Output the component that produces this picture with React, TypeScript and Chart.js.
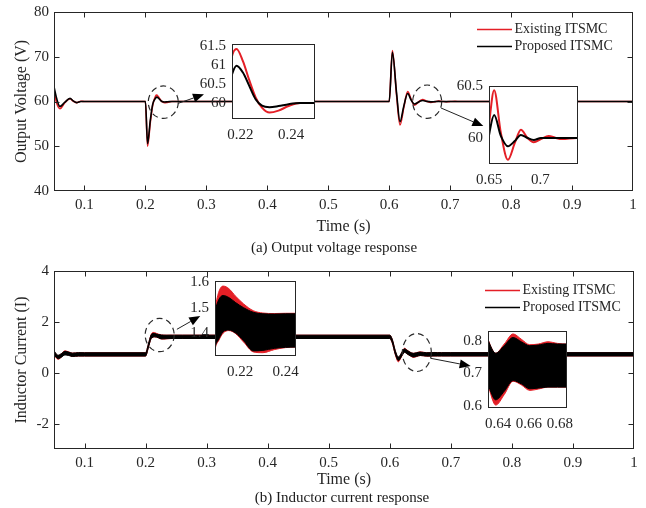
import React, { useEffect, useRef } from 'react';
import { Chart, registerables } from 'chart.js';

Chart.register(...registerables);

const FONT_FAMILY = "'Liberation Serif', 'Times New Roman', Times, serif";
const AXIS_COLOR = '#262626';
const RED = '#e41f26';
const BLACK = '#000000';

const legendLabels = ['Existing ITSMC', 'Proposed ITSMC'];
const legendColors = [RED, BLACK];

// ---------------- Output voltage (V) ----------------
const tV = [0.05, 0.0545, 0.0598, 0.0675, 0.0763, 0.0815, 0.0872, 0.094, 0.1,
  0.2, 0.2035, 0.208, 0.212, 0.2167, 0.2185, 0.221, 0.2235, 0.226, 0.2285, 0.2315, 0.235, 0.239, 0.2435, 0.25,
  0.6, 0.6052, 0.612, 0.6177, 0.624, 0.6303, 0.636, 0.6412, 0.6506, 0.655, 0.6615, 0.6684, 0.675, 0.681, 0.6875,
  0.6935, 0.7005, 0.708, 0.715, 0.721, 0.735, 1.0];
const vExisting = [62.2, 59.6, 58.4, 59.7, 60.6, 60.1, 59.75, 60.05, 60,
  60, 50.0, 55.3, 59.2, 61.23, 61.42, 61.1, 60.6, 60.15, 59.88, 59.75, 59.8, 59.92, 60, 60,
  60, 71.4, 61.5, 54.75, 58.7, 62.2, 60.5, 59.2, 60.18, 60.46, 60.05, 59.79, 59.95, 60.08, 60.0,
  59.96, 59.99, 60.02, 60.0, 59.99, 60.0, 60];
const vProposed = [63.3, 60.6, 58.9, 59.8, 60.7, 60.15, 59.75, 60.0, 60,
  60, 50.6, 55.8, 59.4, 60.75, 60.98, 60.8, 60.45, 60.1, 59.93, 59.89, 59.92, 59.97, 60, 60,
  60, 71.0, 62, 55.5, 59, 61.8, 60.3, 59.45, 60.06, 60.22, 60.02, 59.92, 59.97, 60.03, 60.0,
  59.98, 60.0, 60.0, 60.0, 60.0, 60.0, 60];

// ---------------- Inductor current (ripple envelope) ----------------
const tI = [0.05, 0.053, 0.057, 0.062, 0.068, 0.074, 0.08, 0.09, 0.1,
  0.2, 0.2045, 0.2089, 0.2105, 0.2125, 0.215, 0.218, 0.2215, 0.2258, 0.23, 0.235, 0.24, 0.2446, 0.26,
  0.6, 0.604, 0.609, 0.614, 0.619, 0.624, 0.629,
  0.6335, 0.6385, 0.644, 0.6497, 0.655, 0.6605, 0.666, 0.6723, 0.6785, 0.6846,
  0.7, 1.0];
const iExistingUpper = [0.85, 0.74, 0.67, 0.75, 0.86, 0.82, 0.77, 0.79, 0.785,
  0.785, 1.12, 1.49, 1.56, 1.585, 1.575, 1.545, 1.515, 1.488, 1.479, 1.477, 1.478, 1.478, 1.477,
  1.477, 1.31, 0.85, 0.58, 0.76, 0.96, 0.88,
  0.805, 0.762, 0.79, 0.821, 0.805, 0.788, 0.79, 0.797, 0.792, 0.79,
  0.79, 0.79];
const iExistingLower = [0.71, 0.60, 0.53, 0.61, 0.72, 0.69, 0.64, 0.655, 0.655,
  0.655, 0.98, 1.335, 1.37, 1.40, 1.41, 1.398, 1.365, 1.326, 1.323, 1.335, 1.343, 1.345, 1.345,
  1.345, 1.17, 0.71, 0.43, 0.62, 0.81, 0.73,
  0.664, 0.603, 0.635, 0.676, 0.665, 0.648, 0.652, 0.658, 0.658, 0.658,
  0.658, 0.658];
const iProposedUpper = [0.87, 0.76, 0.69, 0.75, 0.84, 0.81, 0.77, 0.79, 0.785,
  0.785, 1.12, 1.48, 1.53, 1.548, 1.54, 1.52, 1.50, 1.482, 1.476, 1.475, 1.476, 1.476, 1.476,
  1.476, 1.32, 0.87, 0.62, 0.77, 0.94, 0.87,
  0.803, 0.762, 0.785, 0.81, 0.797, 0.785, 0.787, 0.792, 0.79, 0.79,
  0.79, 0.79];
const iProposedLower = [0.73, 0.62, 0.55, 0.61, 0.70, 0.68, 0.64, 0.655, 0.655,
  0.655, 0.98, 1.34, 1.375, 1.405, 1.412, 1.40, 1.37, 1.33, 1.332, 1.34, 1.344, 1.345, 1.345,
  1.345, 1.18, 0.73, 0.48, 0.63, 0.80, 0.73,
  0.666, 0.619, 0.645, 0.678, 0.668, 0.653, 0.655, 0.658, 0.658, 0.658,
  0.658, 0.658];

// ---------------- ticks ----------------
const xMainTicks = [0.1, 0.2, 0.3, 0.4, 0.5, 0.6, 0.7, 0.8, 0.9, 1.0];
const xMainLabels = ['0.1', '0.2', '0.3', '0.4', '0.5', '0.6', '0.7', '0.8', '0.9', '1'];
const vTicks = [40, 50, 60, 70, 80];
const vLabels = ['40', '50', '60', '70', '80'];
const iTicks = [-2, 0, 2, 4];
const iLabels = ['-2', '0', '2', '4'];
const vZoom1XTicks = [0.22, 0.24];
const vZoom1XLabels = ['0.22', '0.24'];
const vZoom1YTicks = [60, 60.5, 61, 61.5];
const vZoom1YLabels = ['60', '60.5', '61', '61.5'];
const vZoom2XTicks = [0.65, 0.7];
const vZoom2XLabels = ['0.65', '0.7'];
const vZoom2YTicks = [60, 60.5];
const vZoom2YLabels = ['60', '60.5'];
const iZoom1XTicks = [0.22, 0.24];
const iZoom1XLabels = ['0.22', '0.24'];
const iZoom1YTicks = [1.4, 1.5, 1.6];
const iZoom1YLabels = ['1.4', '1.5', '1.6'];
const iZoom2XTicks = [0.64, 0.66, 0.68];
const iZoom2XLabels = ['0.64', '0.66', '0.68'];
const iZoom2YTicks = [0.6, 0.7, 0.8];
const iZoom2YLabels = ['0.6', '0.7', '0.8'];

// ---------------- helpers ----------------
type Range = { min: number; max: number; ticks: number[]; labels: string[] };

const pts = (t: number[], v: number[]) => t.map((x, i) => ({ x, y: v[i] }));

function lineDs(label: string, data: any, color: string, bw: number, fill: any = false) {
  return {
    label,
    data,
    borderColor: color,
    backgroundColor: color,
    borderWidth: bw,
    pointRadius: 0,
    cubicInterpolationMode: 'monotone',
    fill,
  };
}

function voltageDatasets(bw: number) {
  return [
    lineDs('Proposed ITSMC', pts(tV, vProposed), BLACK, bw),
    lineDs('Existing ITSMC', pts(tV, vExisting), RED, bw),
  ];
}

function currentDatasets(bw: number) {
  return [
    lineDs('Proposed ITSMC', pts(tI, iProposedUpper), BLACK, bw),
    lineDs('', pts(tI, iProposedLower), BLACK, bw, '-1'),
    lineDs('Existing ITSMC', pts(tI, iExistingUpper), RED, bw),
    lineDs('', pts(tI, iExistingLower), RED, bw, '-1'),
  ];
}

function fixedScale(axis: 'x' | 'y', r: Range, size: number, pad: number, title?: { text: string; pad: number }) {
  return {
    type: 'linear',
    position: axis === 'x' ? 'bottom' : 'left',
    min: r.min,
    max: r.max,
    afterBuildTicks: (s: any) => {
      s.ticks = r.ticks.map((v) => ({ value: v }));
    },
    afterFit: (s: any) => {
      if (axis === 'x') s.height = size;
      else s.width = size;
      s.paddingTop = 0;
      s.paddingBottom = 0;
      s.paddingLeft = 0;
      s.paddingRight = 0;
    },
    ticks: {
      callback: (_v: any, i: number) => r.labels[i],
      font: { family: FONT_FAMILY, size: 15 },
      color: AXIS_COLOR,
      padding: pad,
      autoSkip: false,
      maxRotation: 0,
      minRotation: 0,
      includeBounds: false,
    },
    grid: { display: false, drawTicks: false },
    border: { display: false },
    title: title
      ? {
          display: true,
          text: title.text,
          font: { family: FONT_FAMILY, size: 16 },
          color: AXIS_COLOR,
          padding: { top: title.pad, bottom: 0 },
        }
      : { display: false },
  };
}

const matlabPlugin = {
  id: 'matlab',
  beforeDatasetsDraw(chart: any, _a: any, o: any) {
    if (!o || !o.whiteBg) return;
    const { ctx, chartArea: a } = chart;
    ctx.save();
    ctx.fillStyle = '#ffffff';
    ctx.fillRect(a.left, a.top, a.right - a.left, a.bottom - a.top);
    ctx.restore();
  },
  afterDatasetsDraw(chart: any, _a: any, o: any) {
    const { ctx, chartArea: a, scales } = chart;
    const xs = scales.x;
    const ys = scales.y;
    const L = Math.round(a.left) + 0.5;
    const T = Math.round(a.top) + 0.5;
    const R = Math.round(a.right) - 0.5;
    const B = Math.round(a.bottom) - 0.5;
    ctx.save();
    ctx.strokeStyle = AXIS_COLOR;
    ctx.lineWidth = 1;
    ctx.setLineDash([]);
    ctx.strokeRect(L, T, R - L, B - T);
    const tl = o && o.tickLen ? o.tickLen : 0;
    if (tl) {
      ctx.beginPath();
      xs.ticks.forEach((t: any) => {
        const p = Math.round(xs.getPixelForValue(t.value)) + 0.5;
        if (p <= L + 1 || p >= R - 1) return;
        ctx.moveTo(p, B);
        ctx.lineTo(p, B - tl);
        ctx.moveTo(p, T);
        ctx.lineTo(p, T + tl);
      });
      ys.ticks.forEach((t: any) => {
        const p = Math.round(ys.getPixelForValue(t.value)) + 0.5;
        if (p <= T + 1 || p >= B - 1) return;
        ctx.moveTo(L, p);
        ctx.lineTo(L + tl, p);
        ctx.moveTo(R, p);
        ctx.lineTo(R - tl, p);
      });
      ctx.stroke();
    }
    // dashed circles
    if (o && o.circles) {
      ctx.strokeStyle = '#2a2a2a';
      ctx.lineWidth = 1.2;
      ctx.setLineDash([6, 4]);
      o.circles.forEach((c: any) => {
        ctx.beginPath();
        ctx.ellipse(xs.getPixelForValue(c.x), ys.getPixelForValue(c.y), c.rx, c.ry, 0, 0, Math.PI * 2);
        ctx.stroke();
      });
      ctx.setLineDash([]);
    }
    // arrows
    if (o && o.arrows) {
      ctx.strokeStyle = '#222222';
      ctx.fillStyle = '#000000';
      ctx.lineWidth = 1;
      o.arrows.forEach((ar: any) => {
        const x1 = xs.getPixelForValue(ar.x1);
        const y1 = ys.getPixelForValue(ar.y1);
        const x2 = xs.getPixelForValue(ar.x2);
        const y2 = ys.getPixelForValue(ar.y2);
        const ang = Math.atan2(y2 - y1, x2 - x1);
        const hl = 11;
        const hw = 4.5;
        const bx = x2 - hl * Math.cos(ang);
        const by = y2 - hl * Math.sin(ang);
        ctx.beginPath();
        ctx.moveTo(x1, y1);
        ctx.lineTo(bx, by);
        ctx.stroke();
        ctx.beginPath();
        ctx.moveTo(x2, y2);
        ctx.lineTo(bx + hw * Math.sin(ang), by - hw * Math.cos(ang));
        ctx.lineTo(bx - hw * Math.sin(ang), by + hw * Math.cos(ang));
        ctx.closePath();
        ctx.fill();
      });
    }
    // legend
    if (o && o.legend) {
      const lg = o.legend;
      ctx.font = `14px ${FONT_FAMILY}`;
      ctx.textAlign = 'left';
      ctx.textBaseline = 'middle';
      legendLabels.forEach((lab, i) => {
        const y = Math.round(a.top + lg.top + i * lg.gap) + 0.5;
        const x0 = a.right - lg.right;
        ctx.strokeStyle = legendColors[i];
        ctx.lineWidth = 1.5;
        ctx.beginPath();
        ctx.moveTo(x0, y);
        ctx.lineTo(x0 + lg.lineLen, y);
        ctx.stroke();
        ctx.fillStyle = AXIS_COLOR;
        ctx.fillText(lab, x0 + lg.lineLen + lg.textGap, y);
      });
    }
    ctx.restore();
  },
};

const xMainRange: Range = { min: 0.05, max: 1, ticks: xMainTicks, labels: xMainLabels };

function mainConfig(datasets: any[], y: Range, yTitle: string, padTop: number, padRight: number, xAxisH: number, annot: any) {
  return {
    type: 'line',
    data: { datasets },
    options: {
      responsive: false,
      animation: false,
      devicePixelRatio: 1,
      events: [],
      layout: { padding: { top: padTop, right: padRight, left: 0, bottom: 0 } },
      scales: {
        x: fixedScale('x', xMainRange, xAxisH, 5, { text: 'Time (s)', pad: 0 }),
        y: fixedScale('y', y, 54, 5, { text: yTitle, pad: 12 }),
      },
      plugins: { legend: { display: false }, tooltip: { enabled: false }, matlab: annot },
    },
    plugins: [matlabPlugin],
  };
}

const INSET_Y_W = 46;
const INSET_X_H = 26;
const INSET_PAD_TOP = 10;
const INSET_PAD_RIGHT = 14;

function insetConfig(datasets: any[], x: Range, y: Range) {
  return {
    type: 'line',
    data: { datasets },
    options: {
      responsive: false,
      animation: false,
      devicePixelRatio: 1,
      events: [],
      layout: { padding: { top: INSET_PAD_TOP, right: INSET_PAD_RIGHT, left: 0, bottom: 0 } },
      scales: {
        x: fixedScale('x', x, INSET_X_H, 7),
        y: fixedScale('y', y, INSET_Y_W, 6),
      },
      plugins: { legend: { display: false }, tooltip: { enabled: false }, matlab: { whiteBg: true, tickLen: 0 } },
    },
    plugins: [matlabPlugin],
  };
}

function ChartCanvas({ left, top, width, height, make }: any) {
  const ref = useRef<HTMLCanvasElement>(null);
  useEffect(() => {
    const c = new Chart(ref.current as any, make());
    return () => c.destroy();
  }, []);
  return (
    <canvas
      ref={ref}
      width={width}
      height={height}
      style={{ position: 'absolute', left, top, width, height }}
    />
  );
}

function Inset({ box, make }: any) {
  return (
    <ChartCanvas
      left={box.l - INSET_Y_W}
      top={box.t - INSET_PAD_TOP}
      width={INSET_Y_W + box.w + INSET_PAD_RIGHT}
      height={INSET_PAD_TOP + box.h + INSET_X_H}
      make={make}
    />
  );
}

const topAnnot = {
  tickLen: 5,
  legend: { right: 156, top: 17, gap: 17, lineLen: 35, textGap: 2.5 },
  circles: [
    { x: 0.2293, y: 59.85, rx: 15, ry: 16.2 },
    { x: 0.6623, y: 59.95, rx: 14.5, ry: 16.7 },
  ],
  arrows: [
    { x1: 0.254, y1: 59.6, x2: 0.2961, y2: 61.6 },
    { x1: 0.685, y1: 58.55, x2: 0.7544, y2: 54.5 },
  ],
};

const bottomAnnot = {
  tickLen: 5,
  legend: { right: 149, top: 19, gap: 17, lineLen: 35, textGap: 2.5 },
  circles: [
    { x: 0.2231, y: 1.483, rx: 14.5, ry: 16.7 },
    { x: 0.6443, y: 0.795, rx: 14.5, ry: 19 },
  ],
  arrows: [
    { x1: 0.2513, y1: 1.707, x2: 0.2895, y2: 2.23 },
    { x1: 0.6669, y1: 0.567, x2: 0.7325, y2: 0.264 },
  ],
};

const captionStyle = (cx: number, cy: number): any => ({
  position: 'absolute',
  left: 0,
  width: cx * 2,
  top: cy - 9,
  height: 18,
  lineHeight: '18px',
  textAlign: 'center',
  fontFamily: FONT_FAMILY,
  fontSize: 15,
  color: '#1a1a1a',
  whiteSpace: 'nowrap',
});

export default function App() {
  return (
    <div style={{ position: 'absolute', left: 0, top: 0, width: 646, height: 508, background: '#ffffff', overflow: 'hidden' }}>
      <ChartCanvas
        left={0}
        top={0}
        width={646}
        height={236}
        make={() =>
          mainConfig(voltageDatasets(1.6), { min: 40, max: 80, ticks: vTicks, labels: vLabels }, 'Output Voltage (V)', 12, 13, 45, topAnnot)
        }
      />
      <ChartCanvas
        left={0}
        top={250}
        width={646}
        height={239}
        make={() =>
          mainConfig(currentDatasets(1), { min: -3, max: 4, ticks: iTicks, labels: iLabels }, 'Inductor Current (I)', 21, 12, 40, bottomAnnot)
        }
      />
      <Inset
        box={{ l: 232, t: 44, w: 83, h: 75 }}
        make={() =>
          insetConfig(
            voltageDatasets(2),
            { min: 0.2167, max: 0.2494, ticks: vZoom1XTicks, labels: vZoom1XLabels },
            { min: 59.58, max: 61.55, ticks: vZoom1YTicks, labels: vZoom1YLabels }
          )
        }
      />
      <Inset
        box={{ l: 489, t: 86, w: 89, h: 78 }}
        make={() =>
          insetConfig(
            voltageDatasets(2),
            { min: 0.65, max: 0.7365, ticks: vZoom2XTicks, labels: vZoom2XLabels },
            { min: 59.75, max: 60.5, ticks: vZoom2YTicks, labels: vZoom2YLabels }
          )
        }
      />
      <Inset
        box={{ l: 215, t: 281, w: 81, h: 75 }}
        make={() =>
          insetConfig(
            currentDatasets(1),
            { min: 0.2089, max: 0.2446, ticks: iZoom1XTicks, labels: iZoom1XLabels },
            { min: 1.31, max: 1.605, ticks: iZoom1YTicks, labels: iZoom1YLabels }
          )
        }
      />
      <Inset
        box={{ l: 488, t: 331, w: 79, h: 77 }}
        make={() =>
          insetConfig(
            currentDatasets(1),
            { min: 0.6335, max: 0.6846, ticks: iZoom2XTicks, labels: iZoom2XLabels },
            { min: 0.594, max: 0.83, ticks: iZoom2YTicks, labels: iZoom2YLabels }
          )
        }
      />
      <div style={captionStyle(334, 247)}>(a) Output voltage response</div>
      <div style={captionStyle(342, 497)}>(b) Inductor current response</div>
    </div>
  );
}
